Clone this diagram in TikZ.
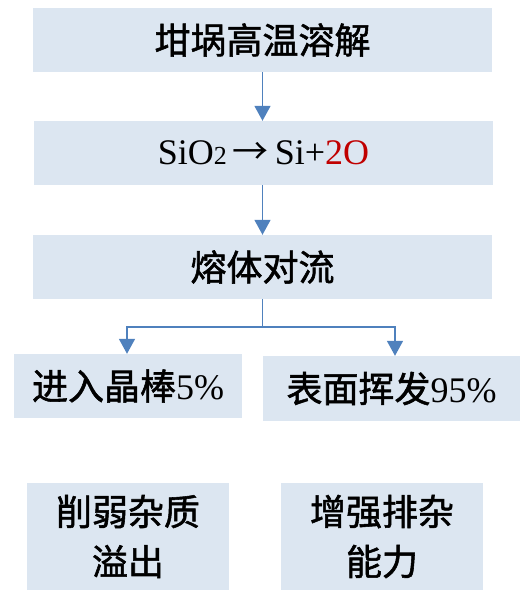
\documentclass[tikz,border=0pt]{standalone}
\usepackage{fontspec}
\setmainfont{Liberation Serif}
\newfontfamily\cjk[FakeBold=1.5]{Noto Sans CJK SC}
\newfontfamily\cjkplain{Noto Sans CJK SC}
\usetikzlibrary{arrows.meta}
\definecolor{boxblue}{HTML}{DCE6F1}
\definecolor{arrblue}{HTML}{4F81BD}
\definecolor{chemred}{HTML}{C00000}
\tikzset{
  flowbox/.style={fill=boxblue, draw=none, inner sep=0pt, align=center,
    font=\fontsize{36}{50}\selectfont\cjk},
  flowarr/.style={draw=arrblue, line width=1.6pt,
    -{Triangle[width=16pt,length=15pt]}},
}
\begin{document}
\begin{tikzpicture}[x=1pt,y=-1pt]
\useasboundingbox (0,0) rectangle (520,590);
\node[flowbox, minimum width=459pt, minimum height=64pt] (b1) at (262.5,40) {坩埚高温溶解};
\node[flowbox, minimum width=459pt, minimum height=64pt, font=\fontsize{36}{40}\selectfont] (b2) at (263.5,153)
  {SiO\raisebox{0pt}{\fontsize{26}{26}\selectfont 2}\,{\cjkplain →}\,Si+\textcolor{chemred}{2O}};
\node[flowbox, minimum width=459pt, minimum height=64pt] (b3) at (262.5,267) {熔体对流};
\node[flowbox, minimum width=228pt, minimum height=64pt] (b4) at (128,386) {进入晶棒{\rmfamily 5\%}};
\node[flowbox, minimum width=257pt, minimum height=65pt] (b5) at (391.5,388.5) {表面挥发{\rmfamily 95\%}};
\node[flowbox, minimum width=202pt, minimum height=107pt] (b6) at (128,536.5) {削弱杂质\\溢出};
\node[flowbox, minimum width=202pt, minimum height=107pt] (b7) at (382,536.5) {增强排杂\\能力};
\draw[flowarr] (b1.south) -- (b1.south |- b2.north);
\draw[flowarr] (b3.north |- b2.south) -- (b3.north);
\coordinate (split) at ([yshift=-28pt]b3.south);
\draw[flowarr] (b3.south) -- (split) -| ([xshift=-1pt]b4.north);
\draw[flowarr] (split) -| ([xshift=3.5pt]b5.north);
\end{tikzpicture}
\end{document}
